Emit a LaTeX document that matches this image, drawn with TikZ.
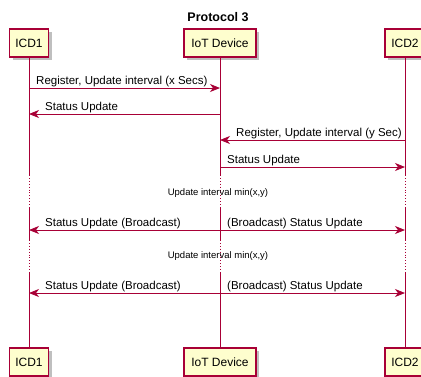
\documentclass[tikz,border=0pt]{standalone}
\usepackage{fontspec}
\setmainfont{Liberation Sans}
\usetikzlibrary{arrows.meta,shadows}
\definecolor{pred}{HTML}{A80036}
\definecolor{pbox}{HTML}{FEFECE}
\begin{document}
\begin{tikzpicture}[x=1pt,y=-1pt,
  part/.style={draw=pred, fill=pbox, line width=1.2pt, minimum height=28pt, inner sep=0pt,
    font=\fontsize{12}{14}\selectfont,
    drop shadow={shadow xshift=3pt, shadow yshift=-3pt, fill=black, opacity=0.25}},
  life/.style={pred, line width=0.9pt},
  lifedot/.style={pred, line width=0.9pt, dotted},
  msg/.style={pred, line width=0.9pt, -{Stealth[length=10pt,width=8pt,inset=3pt]}},
  lbl/.style={anchor=base west, inner sep=0pt, font=\fontsize{11.5}{13}\selectfont},
  delaytxt/.style={inner sep=0pt, font=\fontsize{9.5}{11}\selectfont}]
\useasboundingbox (0,0) rectangle (421,376);
% title
\node[font=\bfseries\fontsize{12.5}{14}\selectfont] (title) at (218,17) {Protocol 3};
% participants
\node[part, minimum width=39pt] (t1) at (29,43) {ICD1};
\node[part, minimum width=72pt] (t2) at (220,43) {IoT Device};
\node[part, minimum width=40pt] (t3) at (405,43) {ICD2};
\node[part, minimum width=39pt] (b1) at (29,362) {ICD1};
\node[part, minimum width=72pt] (b2) at (220,362) {IoT Device};
\node[part, minimum width=40pt] (b3) at (405,362) {ICD2};
% lifelines
\foreach \p in {1,2,3}{
  \draw[life] (t\p.south) -- (t\p.south |- 0,175);
  \draw[lifedot] (t\p.south |- 0,175) -- (t\p.south |- 0,208);
  \draw[life] (t\p.south |- 0,208) -- (t\p.south |- 0,240);
  \draw[lifedot] (t\p.south |- 0,240) -- (t\p.south |- 0,272);
  \draw[life] (t\p.south |- 0,272) -- (b\p.north);
}
% message end points
\foreach \y/\n in {88/a,114/b,140/c,167/d,230/e,293/f}{
  \coordinate (p1\n) at (t1.south |- 0,\y);
  \coordinate (p2\n) at (t2.south |- 0,\y);
  \coordinate (p3\n) at (t3.south |- 0,\y);
}
% messages
\draw[msg] (p1a) -- (p2a);
\node[lbl] (l1) at (36,84.5) {Register, Update interval (x Secs)};
\draw[msg] (p2b) -- (p1b);
\node[lbl] (l2) at (45,110.5) {Status Update};
\draw[msg] (p3c) -- (p2c);
\node[lbl] (l3) at (236,136.5) {Register, Update interval (y Sec)};
\draw[msg] (p2d) -- (p3d);
\node[lbl] (l4) at (227,163.5) {Status Update};
\node[delaytxt] (d1) at (218,193) {Update interval min(x,y)};
\draw[msg] (p2e) -- (p1e);
\draw[msg] (p2e) -- (p3e);
\node[lbl] (l5) at (45,226.5) {Status Update (Broadcast)};
\node[lbl] (l6) at (227,226.5) {(Broadcast) Status Update};
\node[delaytxt] (d2) at (218,256) {Update interval min(x,y)};
\draw[msg] (p2f) -- (p1f);
\draw[msg] (p2f) -- (p3f);
\node[lbl] (l7) at (45,289.5) {Status Update (Broadcast)};
\node[lbl] (l8) at (227,289.5) {(Broadcast) Status Update};
\end{tikzpicture}
\end{document}
